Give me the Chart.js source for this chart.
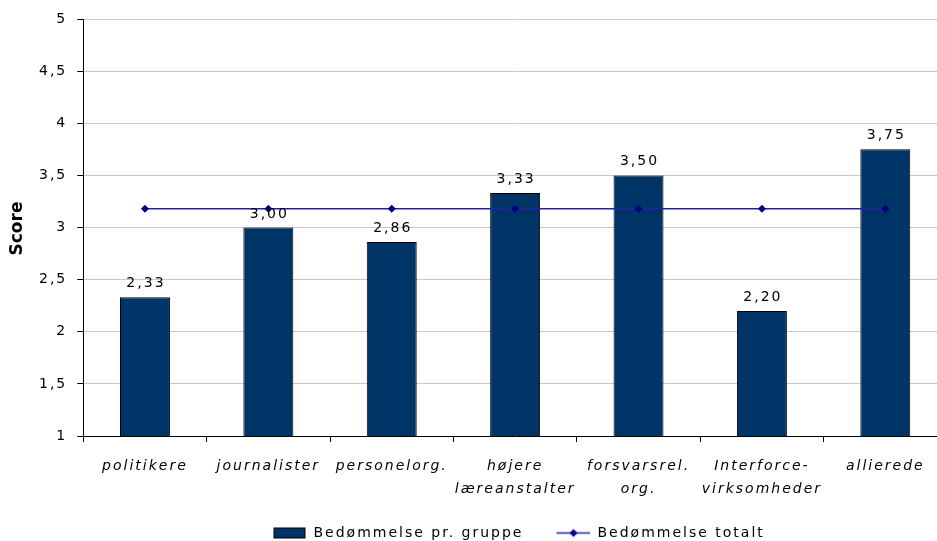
<!DOCTYPE html>
<html>
<head>
<meta charset="utf-8">
<script src="https://cdn.jsdelivr.net/npm/chart.js@4/dist/chart.umd.min.js"></script>
<style>
html,body{margin:0;padding:0;overflow:hidden;background:#fff;}
canvas{display:block;}
</style>
</head>
<body>
<canvas id="grafScore" width="951" height="550"></canvas>
<script>

// data
const grupper = [
  "politikere",
  "journalister",
  "personelorg.",
  ["højere", "læreanstalter"],
  ["forsvarsrel.", "org."],
  ["Interforce-", "virksomheder"],
  "allierede"
];

const scoreGruppe = [2.33, 3.00, 2.86, 3.33, 3.50, 2.20, 3.75];

const scoreTotalt = [3.18, 3.18, 3.18, 3.18, 3.18, 3.18, 3.18];

const yTicks = [1, 1.5, 2, 2.5, 3, 3.5, 4, 4.5, 5];

const serieNavne = ["Bedømmelse pr. gruppe", "Bedømmelse totalt"];

const yTitel = "Score";


const skrift = "'DejaVu Sans', Verdana, sans-serif";

function komma(v, dec){
  const s = dec === undefined ? String(v) : v.toFixed(dec);
  return s.replace(".", ",");
}


// small legend icons (7px blank on the left = extra gap between the two items)
function ikonBoks(){
  const c = document.createElement("canvas");
  c.width = 41; c.height = 13;
  const x = c.getContext("2d");
  x.fillStyle = "#003366";
  x.fillRect(8, 1, 32, 11);
  x.strokeStyle = "#000";
  x.lineWidth = 1;
  x.strokeRect(8.5, 1.5, 31, 10);
  return c;
}

function ikonLinje(){
  const c = document.createElement("canvas");
  c.width = 41; c.height = 13;
  const x = c.getContext("2d");
  x.strokeStyle = "#2323a0";
  x.lineWidth = 1.5;
  x.beginPath();
  x.moveTo(7, 6.5); x.lineTo(41, 6.5);
  x.stroke();
  x.fillStyle = "#000080";
  x.beginPath();
  x.moveTo(24, 2.5); x.lineTo(28, 6.5); x.lineTo(24, 10.5); x.lineTo(20, 6.5);
  x.closePath();
  x.fill();
  return c;
}
const ikoner = [ikonBoks(), ikonLinje()];


const bogstavAfstand = {
  id: "bogstavAfstand",
  beforeUpdate(chart){ chart.ctx.letterSpacing = "2px"; },
  beforeDraw(chart){ chart.ctx.letterSpacing = "2px"; }
};

// value labels over the bars
const vaerdiTekst = {
  id: "vaerdiTekst",
  afterDatasetsDraw(chart){
    const ctx = chart.ctx;
    const meta = chart.getDatasetMeta(0);
    ctx.save();
    ctx.font = "14px " + skrift;
    ctx.fillStyle = "#000";
    ctx.textAlign = "center";
    ctx.textBaseline = "alphabetic";
    meta.data.forEach((bar, i) => {
      ctx.fillText(komma(scoreGruppe[i], 2), bar.x + 1, bar.y - 10);
    });
    ctx.restore();
  }
};

// y axis title, bold and without the letter spacing
const aksetitel = {
  id: "aksetitel",
  afterDraw(chart){
    const ctx = chart.ctx;
    const a = chart.chartArea;
    ctx.save();
    ctx.letterSpacing = "0px";
    ctx.translate(18, (a.top + a.bottom) / 2 + 1);
    ctx.rotate(-Math.PI / 2);
    ctx.font = "bold 17px " + skrift;
    ctx.fillStyle = "#000";
    ctx.textAlign = "center";
    ctx.textBaseline = "middle";
    ctx.fillText(yTitel, 0, 0);
    ctx.restore();
  }
};


new Chart(
  document.getElementById("grafScore"),
  {
    data: {
      labels: grupper,
      datasets: [
        {
          type: "bar",
          label: serieNavne[0],
          data: scoreGruppe,
          backgroundColor: "#003366",
          borderColor: "#000",
          borderWidth: 1,
          categoryPercentage: 1,
          barPercentage: 0.405,
          order: 2
        },
        {
          type: "line",
          label: serieNavne[1],
          data: scoreTotalt,
          borderColor: "#2323a0",
          borderWidth: 1.5,
          pointStyle: "rectRot",
          pointRadius: 4,
          pointBackgroundColor: "#000080",
          pointBorderColor: "#000080",
          pointBorderWidth: 0,
          tension: 0,
          order: 1
        }
      ]
    },
    options: {
      responsive: false,
      animation: false,
      layout: {
        padding: { top: 19, left: 29, right: 0, bottom: 0 }
      },
      scales: {
        x: {
          offset: true,
          grid: {
            offset: true,
            drawOnChartArea: false,
            drawTicks: true,
            tickLength: 6,
            tickColor: "#000"
          },
          border: { color: "#000", width: 1 },
          ticks: {
            color: "#000",
            padding: 13,
            maxRotation: 0,
            autoSkip: false,
            font: { family: skrift, size: 14, style: "italic", lineHeight: "23px" }
          },
          afterFit(scale){
            // drop the padding band chart.js adds under the labels
            scale.height -= 14;
          }
        },
        y: {
          min: 1,
          max: 5,
          afterBuildTicks(scale){
            scale.ticks = yTicks.map(v => ({ value: v }));
          },
          grid: {
            color: "#c8c8c8",
            tickColor: "#000",
            tickLength: 6,
            drawTicks: true
          },
          border: { color: "#000", width: 1 },
          ticks: {
            color: "#000",
            padding: 10,
            font: { family: skrift, size: 14 },
            callback: v => komma(v)
          }
        }
      },
      plugins: {
        legend: {
          position: "bottom",
          fullSize: false,
          labels: {
            color: "#000",
            padding: 26,
            usePointStyle: true,
            pointStyleWidth: 41,
            font: { family: skrift, size: 14 },
            generateLabels(chart){
              const items = Chart.defaults.plugins.legend.labels.generateLabels(chart);
              items.sort((a, b) => a.datasetIndex - b.datasetIndex);
              items.forEach(it => { it.pointStyle = ikoner[it.datasetIndex]; });
              return items;
            }
          }
        },
        tooltip: { enabled: false }
      }
    },
    plugins: [bogstavAfstand, vaerdiTekst, aksetitel]
  }
);

</script>
</body>
</html>
